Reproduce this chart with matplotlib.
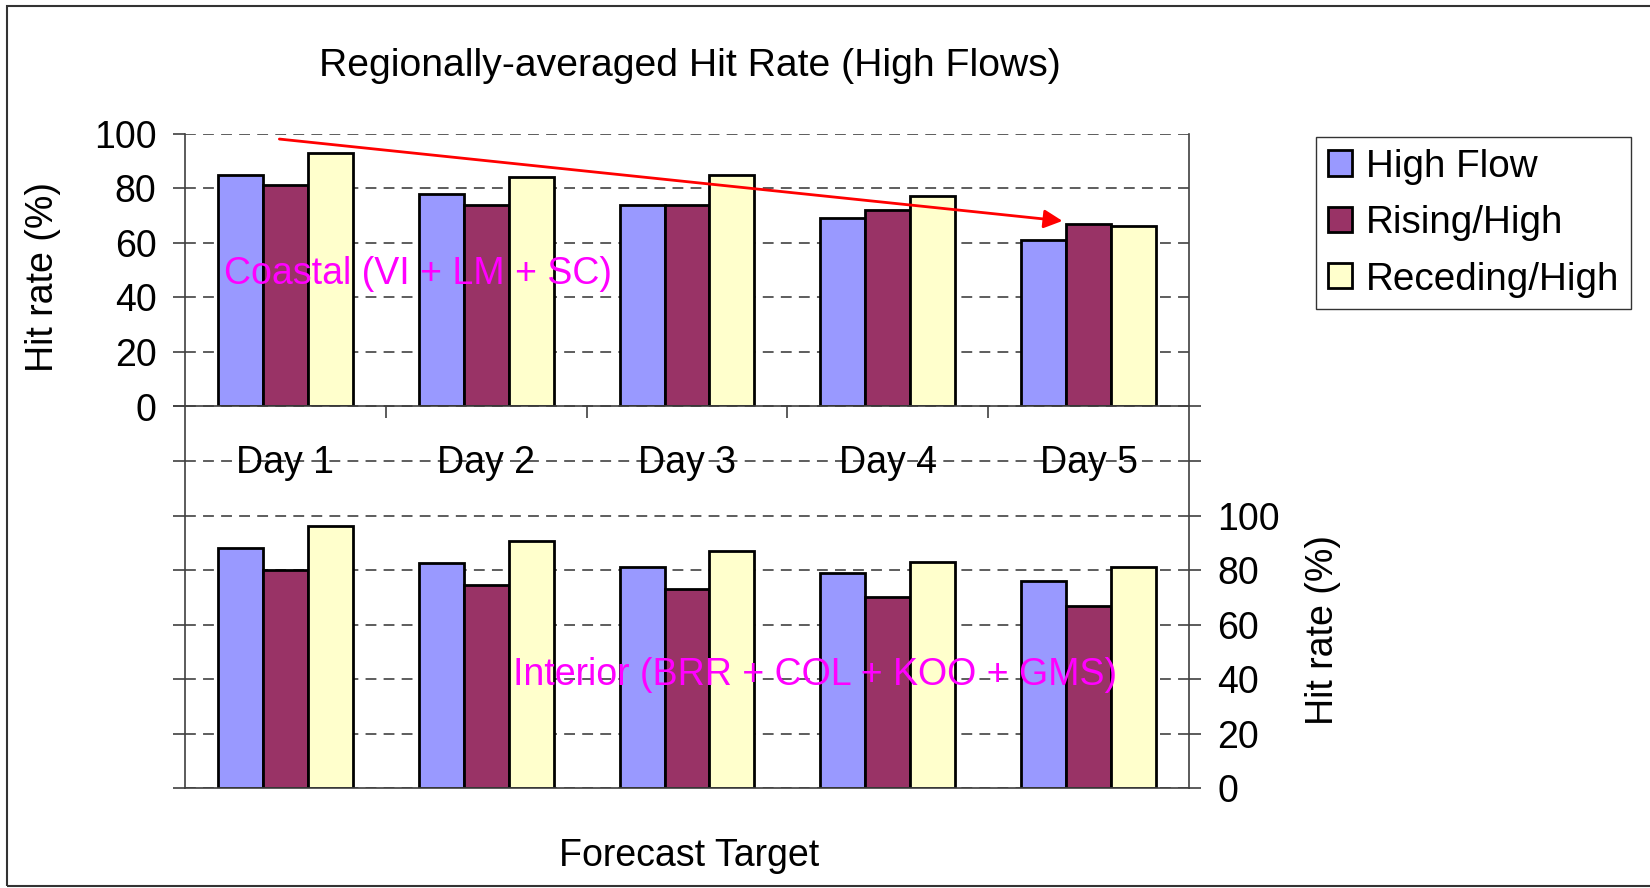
import matplotlib
matplotlib.use("Agg")
import matplotlib.pyplot as plt
import numpy as np
from matplotlib.patches import Rectangle
from matplotlib.ticker import FixedLocator, FuncFormatter

plt.rcParams['font.family'] = ['Liberation Sans', 'DejaVu Sans']

# ---- data -------------------------------------------------------------
days = ["Day 1", "Day 2", "Day 3", "Day 4", "Day 5"]
series_names = ["High Flow", "Rising/High", "Receding/High"]
series_colors = ["#9999FF", "#993366", "#FFFFCC"]

coastal_high_flow = [85, 78, 74, 69, 61]
coastal_rising_high = [81, 74, 74, 72, 67]
coastal_receding_high = [93, 84, 85, 77, 66]

interior_high_flow = [88, 82.5, 81, 79, 76]
interior_rising_high = [80, 74.5, 73, 70, 67]
interior_receding_high = [96, 90.5, 87, 83, 81]

top_ticks = [0, 20, 40, 60, 80, 100]
bottom_ticks = [0, 20, 40, 60, 80, 100, 120, 140]

# trend arrow across the coastal panel (data coordinates)
trend_start = (-0.03, 98)
trend_end = (3.87, 68)

# ---- layout -----------------------------------------------------------
FS = 27
W, H = 1650, 888
fig = plt.figure(figsize=(W / 100, H / 100), dpi=100)

left_px, right_px = 185, 1189
top_px, mid_px, bot_px = 133.6, 406.5, 788.2


def box(y0, y1):
    return [left_px / W, 1 - y1 / H, (right_px - left_px) / W, (y1 - y0) / H]


ax_bot = fig.add_axes(box(mid_px, bot_px))
ax_top = fig.add_axes(box(top_px, mid_px))
for a in (ax_top, ax_bot):
    a.set_facecolor("none")
    a.set_axisbelow(True)
    a.set_xlim(-0.5, len(days) - 0.5)

x = np.arange(len(days))
bw = 0.224
grid_kw = dict(color="#505050", lw=1.3, linestyle=(0, (6, 4)))
spine_col = "#404040"


def draw_bars(ax, values):
    for i, (vals, col) in enumerate(zip(values, series_colors)):
        ax.bar(x + (i - 1) * bw, vals, width=bw, color=col, edgecolor="black",
               linewidth=2.0, label=series_names[i], zorder=2)


# ---- coastal panel ------------------------------------------------------
draw_bars(ax_top, [coastal_high_flow, coastal_rising_high, coastal_receding_high])
ax_top.set_ylim(0, 100)
ax_top.yaxis.set_major_locator(FixedLocator(top_ticks))
ax_top.yaxis.grid(True, **grid_kw)
ax_top.spines["top"].set_visible(False)
for s in ("left", "right", "bottom"):
    ax_top.spines[s].set_color(spine_col)
    ax_top.spines[s].set_linewidth(1.2)
ax_top.tick_params(axis="y", direction="out", length=8.6, width=1.2, pad=12,
                   labelsize=FS, color=spine_col, right=False)
ax_top.set_xticks(x)
ax_top.set_xticklabels(days)
ax_top.set_xticks(x[:-1] + 0.5, minor=True)
ax_top.tick_params(axis="x", which="major", length=0, pad=28, labelsize=FS)
ax_top.tick_params(axis="x", which="minor", direction="out", length=8.6,
                   width=1.2, color=spine_col)
ax_top.set_ylabel("Hit rate (%)", fontsize=FS)
ax_top.yaxis.set_label_coords((43 - left_px) / (right_px - left_px),
                              (mid_px - 277) / (mid_px - top_px))
ax_top.yaxis.label.set_va("center")

ax_top.text(-0.306, 48.5, "Coastal (VI + LM + SC)", color="#FF00FF",
            fontsize=FS, ha="left", va="center", zorder=5)
ax_top.annotate("", xy=trend_end, xytext=trend_start,
                arrowprops=dict(arrowstyle="-|>", color="red", lw=2,
                                mutation_scale=28, shrinkA=0, shrinkB=0),
                annotation_clip=False, zorder=6)

# ---- interior panel -----------------------------------------------------
draw_bars(ax_bot, [interior_high_flow, interior_rising_high, interior_receding_high])
ax_bot.set_ylim(0, 140)
ax_bot.yaxis.set_major_locator(FixedLocator(bottom_ticks))
ax_bot.yaxis.grid(True, **grid_kw)
ax_bot.spines["top"].set_visible(False)
for s in ("left", "right", "bottom"):
    ax_bot.spines[s].set_color(spine_col)
    ax_bot.spines[s].set_linewidth(1.2)
ax_bot.set_xticks([])
ax_bot.tick_params(axis="y", direction="out", length=8.6, width=1.2, pad=12,
                   labelsize=FS, color=spine_col, left=True, right=True,
                   labelleft=False, labelright=True)
ax_bot.yaxis.set_major_formatter(FuncFormatter(lambda v, p: f"{v:.0f}" if v <= 100 else ""))
ax_bot.yaxis.set_label_position("right")
ax_bot.set_ylabel("Hit rate (%)", fontsize=FS)
ax_bot.yaxis.set_label_coords((1323 - left_px) / (right_px - left_px),
                              (bot_px - 630) / (bot_px - mid_px))
ax_bot.yaxis.label.set_va("center")
ax_bot.set_xlabel("Forecast Target", fontsize=FS)
ax_bot.xaxis.set_label_coords((689 - left_px) / (right_px - left_px),
                              (bot_px - 855.5) / (bot_px - mid_px))
ax_bot.xaxis.label.set_va("center")

ax_bot.text(1.133, 41.6, "Interior (BRR + COL + KOO + GMS)", color="#FF00FF",
            fontsize=FS, ha="left", va="center", zorder=5)

# ---- title, legend, frame ----------------------------------------------
fig.text(690 / W, 1 - 66 / H, "Regionally-averaged Hit Rate (High Flows)",
         fontsize=28.2, ha="center", va="center")

handles, labels = ax_top.get_legend_handles_labels()
leg = fig.legend(handles, labels, loc="upper left",
                 bbox_to_anchor=(1316 / W, 1 - 137 / H), fontsize=27.8,
                 frameon=True, fancybox=False, framealpha=1,
                 edgecolor="#333333", borderpad=0.3, labelspacing=0.53,
                 handlelength=0.62, handleheight=0.62, handletextpad=0.37,
                 borderaxespad=0)
leg.get_frame().set_linewidth(1.0)

fig.patches.append(Rectangle((7 / W, 2 / H), 1.2, 1 - 8 / H,
                             transform=fig.transFigure, fill=False,
                             edgecolor="#333333", lw=1.5))

fig.savefig("out.png", dpi=100)
